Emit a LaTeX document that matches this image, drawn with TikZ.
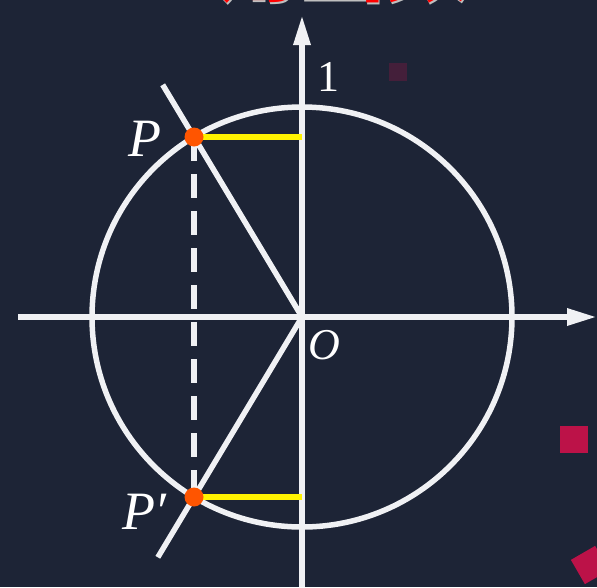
\documentclass[tikz,border=0pt]{standalone}
\usepackage{fontspec}
\setmainfont{Liberation Serif}
\newfontfamily\cjkfont{Noto Sans CJK SC}
\usetikzlibrary{positioning,arrows.meta,calc}

\definecolor{bgnavy}{RGB}{29,36,54}
\definecolor{ptorange}{RGB}{255,85,0}
\definecolor{decored}{RGB}{188,18,72}
\definecolor{chalk}{RGB}{240,241,244}

\begin{document}
\begin{tikzpicture}[
    x=1pt, y=-1pt,
    >={Triangle[length=30pt,width=16pt]},
    every node/.style={inner sep=0pt},
    axisline/.style={line width=6pt, chalk},
    unitcircle/.style={line width=5.5pt, chalk},
    rayline/.style={line width=5.5pt, chalk},
    dropline/.style={line width=5.5pt, chalk, dash pattern=on 24pt off 13pt},
    cosseg/.style={line width=6.5pt, yellow},
    ptdot/.style={circle, fill=ptorange, minimum size=19pt},
    lbl/.style={text=white, font=\fontsize{44}{44}\selectfont},
    ptlbl/.style={text=white, font=\itshape\fontsize{54}{54}\selectfont},
    decosq/.style={fill=decored, draw=none},
]

% ---- Background ----
\fill[bgnavy] (0,0) rectangle (597,587);
\useasboundingbox (0,0) rectangle (597,587);
\clip (0,0) rectangle (597,587);

% ---- Title (cut off at the top) ----
\node[text=black!25, font=\cjkfont\bfseries\fontsize{86}{86}\selectfont, anchor=base] (titleshadow) at (299,-4) {三角函数};
\node[text=red, font=\cjkfont\bfseries\fontsize{86}{86}\selectfont, anchor=base] (title) at (298,-6) {三角函数};

% ---- Decorative squares ----
\fill[decored, opacity=0.25] (389,63) rectangle (407,81);
\fill[decosq] (560,426) rectangle (588,453);
\fill[decosq, rotate around={30:(590,565)}] (576,551) rectangle (604,579);

% ---- Points ----
\coordinate (O) at (302,317);
\coordinate (P) at (194,137);
\coordinate (Pp) at (194,497);
\coordinate (xl) at (18,317);
\coordinate (xr) at (597,317);
\coordinate (yb) at (302,587);
\coordinate (yt) at (302,15);
\coordinate (Ptop) at ($(O)!1.29!(P)$);
\coordinate (Pbot) at ($(O)!1.335!(Pp)$);

% ---- Circle and axes ----
\draw[unitcircle] (O) circle[radius=210];
\draw[axisline, ->] (xl) -- (xr);
\draw[axisline, ->] (yb) -- (yt);

% ---- Terminal sides ----
\draw[rayline] (O) -- (Ptop);
\draw[rayline] (O) -- (Pbot);

% ---- Symmetry and cosine segments ----
\draw[dropline] (P) -- (Pp);
\draw[cosseg] (P) -- (O |- P);
\draw[cosseg] (Pp) -- (O |- Pp);

\node[ptdot] (Pdot) at (P) {};
\node[ptdot] (Ppdot) at (Pp) {};

% ---- Labels ----
\node[lbl] (one) at (328,77) {1};
\node[ptlbl, left=32pt of Pdot.center, yshift=-2pt] (Plabel) {P};
\node[ptlbl, left=27pt of Ppdot.center, yshift=-15pt] (Pplabel) {P′};
\node[lbl, font=\itshape\fontsize{44}{44}\selectfont] (Olabel) at (324,345) {O};

\end{tikzpicture}
\end{document}
